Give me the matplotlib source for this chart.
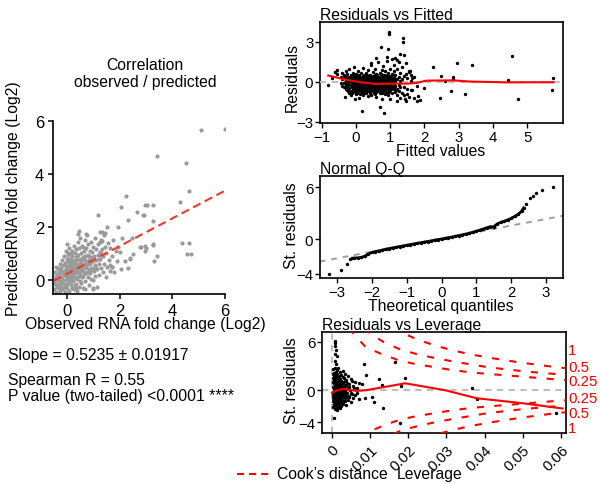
import matplotlib
matplotlib.use('Agg')
import matplotlib.pyplot as plt
from matplotlib.lines import Line2D
import numpy as np

plt.rcParams['font.family'] = ['Liberation Sans', 'DejaVu Sans']
plt.rcParams['axes.linewidth'] = 1.1

# ---------------- data ----------------
# Left: observed vs predicted (log2 fold change)
obs_vals = [
    -0.48, -0.47, -0.45, -0.44, -0.42, -0.40, -0.38, -0.36, -0.35, -0.33, -0.31, -0.30, -0.28, -0.27, -0.26,
    -0.24, -0.23, -0.22, -0.20, -0.19, -0.18, -0.17, -0.15, -0.14, -0.13, -0.12, -0.11, -0.10, -0.08, -0.07,
    -0.06, -0.05, -0.04, -0.03, -0.02, -0.01,
    0.00, 0.00, 0.01, 0.02, 0.03, 0.04, 0.05, 0.06, 0.07, 0.08, 0.09, 0.10, 0.11, 0.12, 0.13, 0.14, 0.15,
    0.16, 0.17, 0.18, 0.19, 0.20, 0.21, 0.22, 0.23, 0.24,
    0.25, 0.26, 0.27, 0.28, 0.29, 0.30, 0.31, 0.32, 0.33, 0.34, 0.35, 0.36, 0.37, 0.38, 0.39, 0.40, 0.41,
    0.42, 0.43, 0.44, 0.45, 0.46, 0.47, 0.48, 0.49,
    0.50, 0.51, 0.52, 0.53, 0.55, 0.56, 0.57, 0.58, 0.60, 0.61, 0.62, 0.63, 0.65, 0.66, 0.67, 0.68, 0.70,
    0.71, 0.72, 0.73, 0.74,
    0.75, 0.76, 0.78, 0.79, 0.80, 0.82, 0.83, 0.85, 0.86, 0.88, 0.89, 0.90, 0.92, 0.94, 0.95, 0.97, 0.98, 0.99,
    1.00, 1.01, 1.03, 1.05, 1.06, 1.08, 1.10, 1.12, 1.14, 1.15, 1.17, 1.19, 1.21, 1.23, 1.24,
    1.26, 1.28, 1.30, 1.33, 1.35, 1.38, 1.40, 1.42, 1.45, 1.48, 1.50, 1.53, 1.55, 1.58,
    1.62, 1.65, 1.70, 1.72, 1.75, 1.80, 1.85, 1.90, 1.95, 2.00, 2.05, 2.10,
    0.68, 1.00, 0.47, 0.43, 0.72, 1.25, 1.44, 1.32,
    5.09, 6.00, 3.41, 4.52, 4.63, 2.24, 2.05, 2.98, 3.02, 3.25, 4.29, 2.65, 2.92, 3.28, 2.30, 1.19,
    4.38, 4.65, 4.55, 4.71, 3.28, 2.81, 2.99, 3.41, 3.30, 2.48, 1.95, 2.52, 2.39, 2.30, 1.51, 1.32,
    1.25, 2.87, 2.77, 2.96, 2.96, 3.28, 2.20, 2.39, 1.70, 1.63,
]
pred_vals = [
    -0.35, 0.05, 0.30, -0.10, 0.50, -0.45, 0.15, -0.20, 0.40, 0.00, -0.30, 0.25, 0.60, -0.05, -0.40,
    0.10, 0.45, -0.25, 0.30, 0.75, -0.10, 0.05, 0.55, -0.35, 0.20, 0.90, -0.15, 0.35, 0.00, 0.65,
    -0.45, 0.15, 1.10, 0.40, -0.20, 0.80,
    1.35, 0.05, 0.50, -0.30, 0.25, 1.00, -0.10, 0.60, 0.20, 1.20, -0.40, 0.45, 0.00, 0.80, 0.30, -0.20, 0.65,
    0.10, 1.00, 0.40, -0.30, 0.20, 0.90, 0.55, -0.05, 0.35,
    1.30, 0.70, 0.10, -0.35, 0.45, 1.00, 0.25, 0.60, -0.15, 0.85, 0.40, 1.15, 0.05, 0.55, -0.40, 0.75, 0.30,
    1.45, 0.95, 0.15, 0.60, -0.25, 1.20, 0.45, 0.80,
    0.20, 1.60, 0.65, -0.10, 1.00, 0.35, 1.30, 0.50, 0.85, -0.30, 0.15, 1.10, 0.60, 0.30, 1.50, 0.90, -0.05,
    0.45, 1.20, 0.70, 0.25,
    1.70, 0.55, 0.95, 0.10, 1.35, 0.40, 0.75, -0.20, 1.10, 0.60, 0.25, 1.45, 0.85, 0.45, 1.05, 0.00, 0.70, 1.25,
    -0.35, 0.35, 0.90, 1.60, 0.55, 0.15, 1.15, 0.75, -0.25, 0.40, 1.35, 0.95, 0.60, 0.20, 1.05,
    0.80, 1.50, 0.45, 1.15, 0.30, 0.90, 1.70, 0.60, 1.25, 0.10, 1.00, 0.50, 1.40, 0.75,
    1.20, 0.55, 0.90, 0.48, 1.50, 0.30, 1.10, 0.70, 1.23, 1.04, 0.40, 1.60,
    -0.34, -0.31, 1.86, 1.74, 1.74, 1.80, 1.76, 1.48,
    5.67, 5.70, 4.69, 4.41, 3.37, 3.18, 2.77, 2.83, 2.83, 2.83, 2.93, 2.58, 2.46, 2.21, 2.26, 2.46,
    1.40, 1.38, 0.98, 0.98, 1.33, 1.26, 1.21, 0.92, 0.73, 1.58, 1.99, 0.98, 0.83, 0.45, 1.99, 1.80,
    1.45, 2.45, 1.23, 1.29, 1.11, 1.36, 0.73, 0.79, 0.48, 0.35,
]
obs_core = [
    -0.43, -0.39, -0.34, -0.29, -0.25, -0.21, -0.16, -0.12, -0.09, -0.04, 0.00, 0.03, 0.06, 0.09, 0.12,
    0.15, 0.18, 0.21, 0.24, 0.27, 0.30, 0.33, 0.36, 0.39, 0.42, 0.45, 0.48, 0.52, 0.55, 0.58, 0.62, 0.66,
    0.70, 0.74, 0.78, 0.82, 0.86, 0.90, 0.94, 0.98, -0.46, -0.32, 0.05, 0.20, 0.35, 0.60, 0.80, 1.10,
    1.20, 1.30,
]
pred_core = [
    0.15, -0.25, 0.20, -0.15, 0.35, -0.05, 0.25, -0.25, 0.55, 0.30, -0.15, 0.70, 0.35, 0.10, 0.55,
    -0.05, 0.75, 0.30, 0.05, 0.50, -0.20, 0.35, 0.75, 0.10, 0.50, 0.30, -0.05, 0.40, 0.70, 0.10, 0.45, 0.80,
    0.25, 0.55, 0.30, 0.65, 0.35, 0.05, 0.70, 0.40, -0.15, 0.45, 0.95, 1.10, -0.30, 1.25, 0.90, 0.45,
    0.80, 1.00,
]
reg_slope = 0.5235
reg_intercept = 0.23

# Residuals vs Fitted
fitted_vals = [
    -0.35, -0.35, -0.35, -0.35, -0.30, -0.30, -0.30, -0.30, -0.30, -0.25, -0.25, -0.25, -0.25, -0.25,
    -0.20, -0.20, -0.20, -0.20, -0.20, -0.20, -0.15, -0.15, -0.15, -0.15, -0.15, -0.15,
    -0.10, -0.10, -0.10, -0.10, -0.10, -0.10, -0.05, -0.05, -0.05, -0.05, -0.05, -0.05, -0.05,
    0.00, 0.00, 0.00, 0.00, 0.00, 0.00, 0.00, 0.05, 0.05, 0.05, 0.05, 0.05, 0.05, 0.05,
    0.10, 0.10, 0.10, 0.10, 0.10, 0.10, 0.10, 0.15, 0.15, 0.15, 0.15, 0.15, 0.15, 0.15,
    0.20, 0.20, 0.20, 0.20, 0.20, 0.20, 0.20, 0.25, 0.25, 0.25, 0.25, 0.25, 0.25, 0.25,
    0.30, 0.30, 0.30, 0.30, 0.30, 0.30, 0.30, 0.35, 0.35, 0.35, 0.35, 0.35, 0.35, 0.35,
    0.40, 0.40, 0.40, 0.40, 0.40, 0.40, 0.40, 0.45, 0.45, 0.45, 0.45, 0.45, 0.45, 0.45,
    0.50, 0.50, 0.50, 0.50, 0.50, 0.50, 0.50, 0.55, 0.55, 0.55, 0.55, 0.55, 0.55, 0.55,
    0.60, 0.60, 0.60, 0.60, 0.60, 0.60, 0.60, 0.65, 0.65, 0.65, 0.65, 0.65, 0.65, 0.65,
    0.70, 0.70, 0.70, 0.70, 0.70, 0.70, 0.70, 0.75, 0.75, 0.75, 0.75, 0.75, 0.75, 0.75,
    0.80, 0.80, 0.80, 0.80, 0.80, 0.80, 0.80, 0.85, 0.85, 0.85, 0.85, 0.85, 0.85,
    0.90, 0.90, 0.90, 0.90, 0.90, 0.90, 0.95, 0.95, 0.95, 0.95, 0.95, 0.95,
    1.00, 1.00, 1.00, 1.00, 1.00, 1.00, 1.05, 1.05, 1.05, 1.05, 1.05,
    1.10, 1.10, 1.10, 1.10, 1.10, 1.15, 1.15, 1.15, 1.15, 1.15, 1.20, 1.20, 1.20, 1.20,
    1.25, 1.25, 1.25, 1.25, 1.30, 1.30, 1.30, 1.30, 1.35, 1.35, 1.35, 1.40, 1.40, 1.40, 1.40,
    1.45, 1.45, 1.45, 1.50, 1.50, 1.50, 1.55, 1.55, 1.60, 1.60, 1.60, 1.70, 1.70,
    -0.40, -0.40, -0.40, -0.45, -0.45, -0.55, -0.55,
    0.965, 0.975, 1.37, 1.38, 0.72, 0.945, 0.17, 0.83, -0.81, 2.46, 2.24, 1.87, 1.78, 2.59, 2.83, 2.84,
    2.78, 2.94, 3.20, 3.38, 2.48, 4.55, 4.45, 4.73, 5.72, 5.77, 1.99, 1.19, 1.29, 0.43, 1.58, 1.63,
    0.60, 0.90, 1.05, -0.60, -0.70, -0.61, 1.56, 1.77, 1.82, 1.43, 1.63, 1.21, 0.70, -0.03, -0.32,
]
resid_vals = [
    0.30, -0.10, 0.50, -0.40, 0.10, -0.50, 0.80, -0.20, 0.40, -0.60, 0.20, -0.10, 0.60, -0.30,
    0.00, -0.80, 0.35, -0.45, 1.00, 0.15, -0.20, 0.50, -0.65, 0.05, -1.00, 0.25,
    0.70, -0.35, 0.10, -0.55, 0.30, -0.10, -0.75, 0.00, 0.45, -0.30, 0.20, -0.50, 1.10,
    -0.15, 0.35, -0.60, 0.05, -0.90, 0.60, -0.40, 0.15, -0.25, -0.70, 0.40, -0.05, 0.80, -0.45,
    -0.30, 0.25, -0.55, 0.00, -1.20, 0.50, -0.15, 0.10, -0.40, -0.80, 0.30, -0.20, 0.65, -0.60,
    -0.10, 0.45, -0.50, 0.05, -0.95, -0.30, 1.05, 0.20, -0.35, -0.70, 0.00, 0.55, -0.20, -0.50,
    -0.45, 0.10, -0.15, 0.70, -0.85, 0.30, -0.60, 0.00, -0.30, 0.40, -0.65, -0.10, 0.90, -1.05,
    -0.50, 0.20, -0.25, 0.55, -0.80, 0.05, -0.40, 0.30, -0.15, -0.60, 0.10, 1.30, -0.35, -0.95,
    -0.20, 0.45, -0.70, 0.00, -0.45, 0.75, -0.10, 0.15, -0.55, -0.30, 0.50, -0.90, 1.00, -0.05,
    -0.40, 0.25, -0.15, -0.75, 0.60, 0.00, -1.10, 0.05, -0.30, 0.40, -0.60, 1.50, -0.20, 0.20,
    -0.50, 0.30, -0.10, -0.85, 0.65, 0.10, -0.35, 0.15, -0.25, 0.90, -0.65, -1.30, 0.40, -0.05,
    -0.40, 0.00, 0.55, -0.70, 0.25, 1.20, -0.20, -0.10, 0.35, -0.55, 0.80, -0.90, 0.05,
    0.20, -0.30, 1.60, -0.75, 0.50, -0.05, -0.45, 0.10, 0.70, -0.20, -1.00, 0.35,
    0.00, -0.60, 0.45, 1.00, -0.30, -1.25, 0.25, -0.40, 0.60, -0.80, 0.05,
    -0.20, 0.80, -0.55, 0.30, 1.30, 0.10, -0.75, 0.50, -0.30, 1.80, -0.50, 0.20, 0.95, -1.00,
    0.40, -0.20, -0.70, 1.50, -0.35, 0.70, 0.10, -1.20, 0.20, -0.80, 1.10, -0.40, 0.45, 2.00, -1.00,
    0.60, -1.40, 1.40, -0.50, 0.30, -0.90, 0.80, -1.10, 0.10, -0.60, 0.50, -1.20, 0.40,
    0.20, -0.30, 0.70, 0.40, -0.10, 0.60, 0.90,
    3.60, 3.75, 3.28, 2.98, 2.60, 2.47, -2.20, -2.33, -0.22, -1.22, 1.10, -1.35, -1.40, 0.10, 0.35, 0.20,
    -0.65, 1.40, -0.90, 1.28, 0.47, 1.98, 0.15, -1.28, -0.58, 0.28, -0.43, 1.65, 2.10, 1.43, 0.85, 0.30,
    1.80, 1.90, 1.70, 0.75, 0.30, 0.72, 0.73, -0.27, -1.03, -1.28, -0.60, -1.40, -1.90, -1.28, -1.15,
]
fitted_core = [
    -0.225, -0.225, -0.225, -0.125, -0.125, -0.125, -0.125, -0.025, -0.025, -0.025, -0.025,
    0.025, 0.025, 0.025, 0.025, 0.075, 0.075, 0.075, 0.125, 0.125, 0.125, 0.125, 0.175, 0.175, 0.175,
    0.225, 0.225, 0.225, 0.225, 0.275, 0.275, 0.275, 0.325, 0.325, 0.325, 0.325, 0.375, 0.375, 0.375,
    0.425, 0.425, 0.425, 0.425, 0.475, 0.475, 0.475, 0.525, 0.525, 0.525, 0.525, 0.575, 0.575, 0.575,
    0.625, 0.625, 0.625, 0.625, 0.675, 0.675, 0.675, 0.725, 0.725, 0.725, 0.725, 0.775, 0.775, 0.775,
    0.825, 0.825, 0.825, 0.825, 0.875, 0.875, 0.875, 0.925, 0.925, 0.925, 0.975, 0.975, 0.975,
    1.025, 1.025, 1.025, 1.075, 1.075, 1.125, 1.125, 1.125, 1.175, 1.175,
]
resid_core = [
    -0.20, 0.30, -0.70, 0.00, -0.40, 0.40, -0.80, -0.20, 0.20, -0.55, 0.55,
    0.10, -0.35, -0.80, 0.45, -0.10, 0.30, -0.60, 0.05, -0.45, 0.40, -0.90, -0.25, 0.20, -0.65,
    0.30, -0.15, -0.40, -0.80, 0.05, -0.55, 0.40, -0.25, 0.25, -0.70, 0.50, -0.45, 0.10, -0.20,
    0.35, -0.35, -0.70, 0.00, -0.25, 0.20, -0.55, 0.05, -0.35, -0.80, 0.35, -0.15, 0.30, -0.65,
    -0.45, 0.10, 0.50, -0.25, -0.65, 0.00, 0.35, -0.20, -0.55, 0.20, 0.60, -0.35, 0.10, -0.80,
    0.15, -0.50, -0.25, 0.50, -0.35, 0.00, -0.75, 0.40, -0.15, -0.55, -0.40, 0.20, -0.75,
    -0.15, 0.35, -0.55, -0.35, 0.10, 0.00, -0.40, 0.50, -0.60, 0.25,
]
lowess_fit_x = [-0.81, -0.5, -0.27, 0.1, 0.56, 1.09, 1.48, 1.77, 2.06, 2.84, 3.33, 4.40, 5.77]
lowess_fit_y = [0.48, 0.30, 0.15, 0.0, -0.15, -0.12, -0.13, -0.07, 0.10, 0.12, 0.03, -0.03, -0.02]

# Normal Q-Q
qq_theo = [
    -3.23, -2.90, -2.72, -2.63, -2.56,
    -2.5, -2.4, -2.3, -2.2, -2.1, -2.0, -1.9, -1.8, -1.7, -1.6, -1.5, -1.4, -1.3, -1.2, -1.1, -1.0,
    -0.9, -0.8, -0.7, -0.6, -0.5, -0.4, -0.3, -0.2, -0.1, 0.0, 0.1, 0.2, 0.3, 0.4, 0.5, 0.6, 0.7, 0.8,
    0.9, 1.0, 1.1, 1.2, 1.3, 1.4, 1.5, 1.6, 1.7, 1.8, 1.9, 2.0, 2.1, 2.2, 2.3,
    2.36, 2.43, 2.54, 2.62, 2.72, 2.88, 3.21,
]
qq_sample = [
    -4.04, -3.54, -2.92, -2.30, -2.22,
    -2.20, -2.17, -2.12, -1.97, -1.72, -1.55, -1.45, -1.38, -1.28, -1.18, -1.10, -1.02, -0.95, -0.87,
    -0.80, -0.72, -0.65, -0.57, -0.50, -0.43, -0.36, -0.29, -0.22, -0.14, -0.07, 0.00, 0.07, 0.15, 0.23,
    0.31, 0.40, 0.48, 0.57, 0.67, 0.78, 0.90, 1.02, 1.15, 1.30, 1.42, 1.40, 1.75, 1.92, 2.05, 2.20,
    2.38, 2.60, 2.85, 3.20,
    3.60, 4.04, 4.69, 4.95, 5.31, 5.69, 6.00,
]
qq_line_slope = 0.755
qq_line_intercept = 0.04

# Residuals vs Leverage
lev_h = [
    0.0004, 0.0004, 0.0004, 0.0004, 0.0004, 0.0004,
    0.0006, 0.0006, 0.0006, 0.0006, 0.0006, 0.0006, 0.0006,
    0.0008, 0.0008, 0.0008, 0.0008, 0.0008, 0.0008, 0.0008,
    0.0010, 0.0010, 0.0010, 0.0010, 0.0010, 0.0010, 0.0010, 0.0010,
    0.0012, 0.0012, 0.0012, 0.0012, 0.0012, 0.0012, 0.0012, 0.0012,
    0.0014, 0.0014, 0.0014, 0.0014, 0.0014, 0.0014, 0.0014, 0.0014,
    0.0016, 0.0016, 0.0016, 0.0016, 0.0016, 0.0016, 0.0016,
    0.0018, 0.0018, 0.0018, 0.0018, 0.0018, 0.0018,
    0.0020, 0.0020, 0.0020, 0.0020, 0.0020, 0.0020,
    0.0022, 0.0022, 0.0022, 0.0022, 0.0022,
    0.0025, 0.0025, 0.0025, 0.0025, 0.0025,
    0.0028, 0.0028, 0.0028, 0.0028, 0.0028,
    0.0031, 0.0031, 0.0031, 0.0031,
    0.0034, 0.0034, 0.0034, 0.0034,
    0.0038, 0.0038, 0.0038, 0.0042, 0.0042, 0.0042, 0.0046, 0.0046,
    0.0050, 0.0050, 0.0050, 0.0055, 0.0055, 0.0060, 0.0060, 0.0065, 0.0065, 0.0070, 0.0070,
    0.0007, 0.0009, 0.0008, 0.0011, 0.0009, 0.0012, 0.0007, 0.0010, 0.0005,
    0.0083, 0.0164, 0.0192, 0.0122, 0.0089, 0.0131, 0.0133, 0.0110, 0.0104, 0.0182, 0.0179,
    0.0079, 0.0087, 0.0368, 0.0379, 0.0588,
]
lev_r = [
    2.6, 1.5, 0.4, -0.6, -1.4, -2.1,
    2.1, 0.9, -0.2, -1.0, -1.8, 0.1, 1.3,
    2.8, 1.8, 0.6, -0.4, -1.2, -2.3, 0.0,
    2.3, 1.1, 0.2, -0.7, -1.6, 0.8, -0.2, -2.0,
    1.6, 0.5, -0.3, -1.1, -2.4, 2.5, 0.0, -0.9,
    2.0, 0.9, -0.1, -0.8, -1.5, 1.3, -2.2, 0.3,
    1.2, 0.3, -0.5, -1.3, 2.7, -1.9, 0.6,
    1.7, 0.1, -0.6, -1.7, 0.8, -0.2,
    2.2, 1.0, -0.4, -1.1, -2.2, 0.4,
    1.4, 0.2, -0.8, -1.6, 0.7,
    1.9, 0.5, -0.3, -1.3, -2.0,
    1.0, -0.1, -0.9, 2.4, -1.7,
    1.5, 0.3, -0.6, -1.4,
    0.6, -0.2, -1.0, 2.0,
    1.2, -0.5, -1.8, 0.2, -1.2, 1.7, 0.8, -0.7,
    1.4, -0.3, -1.5, 0.5, -1.0, 1.0, -0.6, -0.4, 0.3, 0.9, -1.1,
    6.1, 5.83, 5.5, 5.0, 4.47, 4.26, 3.64, 3.23, -3.5,
    3.19, 3.45, 1.5, 1.33, 1.9, 0.58, -2.15, -1.5, -0.8, 0.46, -4.06,
    0.74, -1.0, 0.25, -1.08, -2.85,
]
lev_h_core = [
    0.0003, 0.0003, 0.0003, 0.0003, 0.0005, 0.0005, 0.0005, 0.0005, 0.0007, 0.0007, 0.0007, 0.0007,
    0.0009, 0.0009, 0.0009, 0.0009, 0.0011, 0.0011, 0.0011, 0.0011, 0.0013, 0.0013, 0.0013, 0.0013,
    0.0015, 0.0015, 0.0015, 0.0015, 0.0017, 0.0017, 0.0017, 0.0019, 0.0019, 0.0019,
    0.0021, 0.0021, 0.0021, 0.0024, 0.0024, 0.0024, 0.0027, 0.0027, 0.0030, 0.0030,
    0.0026, 0.0026, 0.0026, 0.0029, 0.0029, 0.0029, 0.0033, 0.0033, 0.0033, 0.0036, 0.0036,
    0.0040, 0.0040, 0.0044, 0.0044, 0.0048, 0.0053, 0.0053, 0.0058,
]
lev_r_core = [
    1.0, -0.2, -1.0, 2.0, 0.2, -0.9, 1.8, -1.7, 0.5, -0.5, 1.4, -1.4,
    -0.1, 1.6, -1.3, 0.7, 0.4, -0.4, 1.9, -1.8, -0.6, 0.7, -1.4, 1.1,
    0.1, -1.0, 1.6, -0.4, -0.8, 0.5, 1.0, 0.3, -1.4, 1.4,
    -0.2, 0.9, -1.9, -0.7, 1.1, 0.1, 0.4, -1.2, -0.3, 0.9,
    0.8, -0.5, -1.5, 0.2, 1.6, -0.7, -0.1, 1.1, -1.3, 0.5, -0.8,
    -0.3, 0.9, 0.4, -0.9, 0.0, -0.5, 1.1, 0.3,
]
lowess_lev_x = [0.0, 0.0012, 0.0028, 0.0045, 0.0065, 0.009, 0.0192, 0.0296, 0.0379, 0.0497, 0.0604]
lowess_lev_y = [-0.30, -0.05, 0.15, 0.05, -0.10, 0.00, 0.85, 0.00, -1.00, -1.60, -2.27]

cook_levels = ['1', '0.5', '0.25']
cook_h_1 = [0.0160, 0.0178, 0.0228, 0.0272, 0.0319, 0.0361, 0.0408, 0.0453, 0.0500, 0.0545, 0.0592, 0.0615]
cook_v_1 = [7.90, 7.20, 6.20, 5.50, 4.90, 4.45, 4.05, 3.70, 3.38, 3.10, 2.82, 2.72]
cook_h_05 = [0.0085, 0.0094, 0.0134, 0.0181, 0.0220, 0.0262, 0.0312, 0.0356, 0.0401, 0.0448, 0.0495, 0.0539, 0.0586, 0.0615]
cook_v_05 = [7.70, 7.20, 6.00, 5.00, 4.50, 4.05, 3.60, 3.25, 2.90, 2.62, 2.38, 2.18, 2.00, 1.92]
cook_h_025 = [0.0046, 0.0052, 0.0060, 0.0089, 0.0134, 0.0178, 0.0217, 0.0262, 0.0314, 0.0361, 0.0406, 0.0453, 0.0497, 0.0545, 0.0589, 0.0615]
cook_v_025 = [7.70, 7.20, 6.80, 5.30, 4.40, 3.65, 3.25, 2.90, 2.50, 2.22, 2.02, 1.85, 1.68, 1.50, 1.32, 1.26]

# ---------------- figure ----------------
W, H = 600, 485
fig = plt.figure(figsize=(6, 4.85), dpi=100)


def fx(px):
    return px / W


def fy(py):
    return 1 - py / H


def add_ax(l, t, r, b):
    return fig.add_axes([fx(l), fy(b), (r - l) / W, (b - t) / H])


FS = 11.3
TFS = 10.8
RED = '#FF0000'
DOT = 6.0

# ---- left correlation panel ----
axL = add_ax(53, 122, 225, 295)
axL.scatter(obs_vals + obs_core, pred_vals + pred_core, s=9.0, color='#9A9A9A',
            linewidths=0, zorder=2)
xx = np.array([-0.5, 6.0])
axL.plot(xx, reg_slope * xx + reg_intercept, color='#EE3A2A', lw=1.5,
         ls=(0, (4.0, 2.3)), zorder=3)
axL.set_xlim(-0.53, 6.0)
axL.set_ylim(-0.53, 6.0)
axL.set_xticks([0, 2, 4, 6])
axL.set_yticks([0, 2, 4, 6])
for s in ['top', 'right']:
    axL.spines[s].set_visible(False)
for s in ['left', 'bottom']:
    axL.spines[s].set_linewidth(1.2)
axL.tick_params(direction='out', length=3.8, width=1.1, labelsize=12, pad=2.5)

fig.text(fx(145), fy(66), 'Correlation', ha='center', va='center', fontsize=FS)
fig.text(fx(145), fy(82), 'observed / predicted', ha='center', va='center', fontsize=FS)
fig.text(fx(145), fy(325), 'Observed RNA fold change (Log2)', ha='center', va='center', fontsize=FS)
fig.text(fx(14), fy(199), 'PredictedRNA fold change (Log2)', ha='center', va='center',
         rotation=90, fontsize=FS)

fig.text(fx(8), fy(356), 'Slope = 0.5235 \u00b1 0.01917', ha='left', va='center', fontsize=FS)
fig.text(fx(8), fy(381), 'Spearman R = 0.55', ha='left', va='center', fontsize=FS)
fig.text(fx(8), fy(397), 'P value (two-tailed) <0.0001 ****', ha='left', va='center', fontsize=FS)


def r_style(ax):
    for s in ax.spines.values():
        s.set_linewidth(1.2)
    ax.tick_params(direction='out', length=3.6, width=1.0, labelsize=TFS, pad=1.2)


# ---- Residuals vs Fitted ----
ax1 = add_ax(320, 23, 563, 124)
ax1.axhline(0, color='#BDBDBD', lw=1.5, ls=(0, (3.0, 2.6)), zorder=3)
ax1.plot(lowess_fit_x, lowess_fit_y, color=RED, lw=1.5, zorder=5)
ax1.scatter(fitted_vals + fitted_core, resid_vals + resid_core, s=DOT, color='black',
            linewidths=0, zorder=4)
ax1.set_xlim(-1.05, 6.05)
ax1.set_ylim(-3.08, 4.5)
ax1.set_xticks([-1, 0, 1, 2, 3, 4, 5])
ax1.set_yticks([-3, 0, 3])
r_style(ax1)
ax1.set_title('Residuals vs Fitted', loc='left', fontsize=FS, pad=2)
fig.text(fx(441), fy(152), 'Fitted values', ha='center', va='center', fontsize=FS)
fig.text(fx(292), fy(77), 'Residuals', ha='center', va='center', rotation=90, fontsize=FS)

# ---- Normal Q-Q ----
ax2 = add_ax(320, 177, 563, 279)
qx = np.array([-3.5, 3.5])
ax2.plot(qx, qq_line_slope * qx + qq_line_intercept, color='#9E9E9E', lw=1.4,
         ls=(0, (3.0, 3.0)), zorder=2)
ax2.plot(qq_theo[4:-6], qq_sample[4:-6], color='black', lw=2.0, zorder=3)
ax2.scatter(qq_theo, qq_sample, s=DOT, color='black', linewidths=0, zorder=4)
ax2.set_xlim(-3.49, 3.49)
ax2.set_ylim(-4.5, 7.27)
ax2.set_xticks([-3, -2, -1, 0, 1, 2, 3])
ax2.set_yticks([-4, 0, 6])
r_style(ax2)
ax2.set_title('Normal Q-Q', loc='left', fontsize=FS, pad=2)
fig.text(fx(441), fy(307), 'Theoretical quantiles', ha='center', va='center', fontsize=FS)
fig.text(fx(292), fy(226), 'St. residuals', ha='center', va='center', rotation=90, fontsize=FS)

# ---- Residuals vs Leverage ----
ax3 = add_ax(322, 333, 566, 434)
ax3.axhline(0, color='#BDBDBD', lw=1.5, ls=(0, (3.0, 2.6)), zorder=1)
ax3.axvline(0, color='#BDBDBD', lw=1.5, ls=(0, (3.0, 2.6)), zorder=1)
ax3.scatter(lev_h + lev_h_core, lev_r + lev_r_core, s=DOT, color='black', linewidths=0, zorder=3)
ax3.plot(lowess_lev_x, lowess_lev_y, color=RED, lw=1.5, zorder=4)
cook_dash = (0, (3.4, 5.0))
for hh, vv in [(cook_h_1, cook_v_1), (cook_h_05, cook_v_05), (cook_h_025, cook_v_025)]:
    v = np.array(vv)
    ax3.plot(hh, v, color=RED, lw=1.5, ls=cook_dash, zorder=5)
    ax3.plot(hh, -v, color=RED, lw=1.5, ls=cook_dash, zorder=5)
ax3.set_xlim(-0.0026, 0.0613)
ax3.set_ylim(-5.3, 7.2)
ax3.set_xticks([0, 0.01, 0.02, 0.03, 0.04, 0.05, 0.06])
ax3.set_xticklabels(['0', '0.01', '0.02', '0.03', '0.04', '0.05', '0.06'],
                    rotation=45, ha='right', va='top', rotation_mode='anchor')
ax3.set_yticks([-4, 0, 6])
r_style(ax3)
ax3.tick_params(axis='x', pad=3)
ax3.set_title('Residuals vs Leverage', loc='left', fontsize=FS, pad=2)
fig.text(fx(292), fy(381), 'St. residuals', ha='center', va='center', rotation=90, fontsize=FS)
fig.text(fx(430), fy(475), 'Leverage', ha='center', va='center', fontsize=FS)

for lab, py in zip(cook_levels + cook_levels[::-1], [351, 368, 382, 399, 414, 429]):
    fig.text(fx(568), fy(py), lab, ha='left', va='center', color=RED, fontsize=10.8)

fig.add_artist(Line2D([fx(237), fx(269)], [fy(475), fy(475)], color=RED, lw=1.5,
                      ls=(0, (3.4, 2.4))))
fig.text(fx(277), fy(475), 'Cook\u2019s distance', ha='left', va='center', fontsize=FS)

fig.savefig('out.png', dpi=100)
